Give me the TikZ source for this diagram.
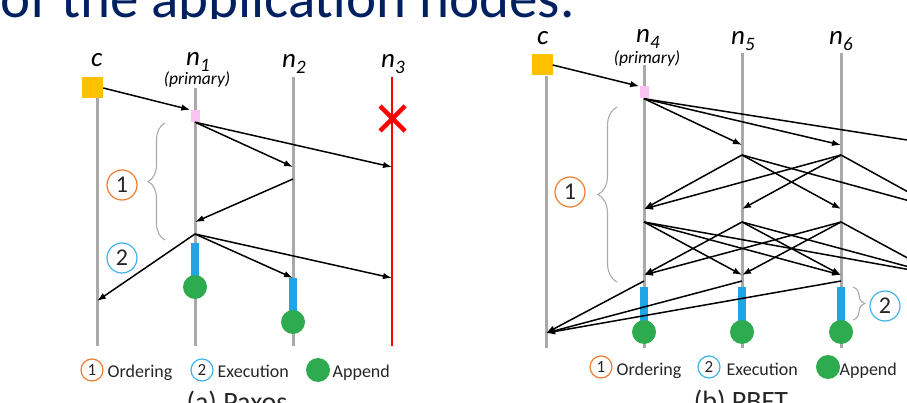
\documentclass[tikz,border=0pt]{standalone}
\usepackage{fontspec}
\setmainfont{Carlito}
\usepackage{tikz}
\usetikzlibrary{arrows.meta, decorations.pathreplacing}
\definecolor{TitleBlue}{HTML}{002060}
\definecolor{ClientGold}{HTML}{FFC000}
\definecolor{PrimPink}{HTML}{FAC3F2}
\definecolor{ExecBlue}{HTML}{1FA5E6}
\definecolor{AppGreen}{HTML}{2EAA4F}
\definecolor{LifeGrey}{HTML}{A9A9A9}
\definecolor{OrdOrange}{HTML}{ED7D31}
\definecolor{ExeRing}{HTML}{3FB3EA}
\definecolor{FailRed}{HTML}{FF0000}

\newcommand{\nodelbl}[1]{\textit{n}\raisebox{-6pt}[0pt][0pt]{\fontsize{19}{19}\selectfont\textit{#1}}}

\tikzset{
  life/.style={line width=3pt, LifeGrey},
  msg/.style={-{Latex[length=9pt,width=6.5pt]}, line width=1.5pt, black},
  lbl/.style={anchor=base west, inner sep=0pt, font=\fontsize{27}{27}\selectfont},
  prim/.style={inner sep=0pt, font=\fontsize{17.5}{17.5}\selectfont\itshape},
  client/.style={fill=ClientGold, minimum size=21pt, inner sep=0pt},
  pinkbox/.style={fill=PrimPink, minimum width=9pt, minimum height=12pt, inner sep=0pt},
  execbar/.style={fill=ExecBlue, minimum width=8pt, minimum height=34pt, inner sep=0pt},
  append/.style={circle, fill=AppGreen, minimum size=24pt, inner sep=0pt},
  numc/.style={circle, draw=#1, line width=1.2pt, minimum size=22pt, inner sep=0pt,
    text=black!85, font=\fontsize{17}{17}\selectfont},
  bignum/.style={numc=#1, minimum size=30pt, font=\fontsize{24}{24}\selectfont},
  legtxt/.style={anchor=base west, inner sep=0pt, text=black!85, font=\fontsize{18}{18}\selectfont},
  caption/.style={anchor=base, inner sep=0pt, text=black!85, font=\fontsize{28}{28}\selectfont},
  curly/.style={decorate, decoration={brace, amplitude=#1}, line width=1.1pt, LifeGrey}
}

\begin{document}
\begin{tikzpicture}[x=1pt, y=-1pt]
    \useasboundingbox (0,0) rectangle (907,403);
    \clip (0,0) rectangle (907,403);

    % Slide heading, cut by the crop
    \begin{scope}
        \clip (0,0) rectangle (907,18.5);
        \node[anchor=base west, inner sep=0pt, text=TitleBlue, font=\fontsize{57}{60}\selectfont]
            (heading) at (0.5,18) {\raisebox{0pt}[\height][0pt]{of the application nodes.}};
    \end{scope}

    %% (a) Paxos
    % Lifelines
    \draw[life] (97,98) -- (97,346);
    \draw[life] (195,88) -- (195,346);
    \draw[life] (293,77) -- (293,346);
    \draw[line width=2.6pt, FailRed] (392,77) -- (392,346);
    \draw[line width=4.5pt, FailRed] (380,106) -- (405,131) (380,131) -- (405,106);

    % Labels
    \node[lbl] (a-lc) at (91,67) {\textit{c}};
    \node[lbl] (a-l1) at (186,66) {\nodelbl{1}};
    \node[prim] (a-p1) at (197,80) {(primary)};
    \node[lbl] (a-l2) at (282,68) {\nodelbl{2}};
    \node[lbl] (a-l3) at (381,68) {\nodelbl{3}};

    % Client and primary
    \node[client] (a-client) at (92.5,88) {};
    \node[pinkbox] (a-prim) at (195,116) {};

    % Execution and append
    \node[execbar] (a-ex1) at (195,260) {};
    \node[execbar] (a-ex2) at (293,295) {};
    \node[append] (a-ap1) at (195,287) {};
    \node[append] (a-ap2) at (293,322) {};

    % Phases
    \draw[curly=17pt] (165,240) -- (165,123);
    \node[bignum=OrdOrange] (a-ph1) at (122,185) {1};
    \node[bignum=ExeRing] (a-ph2) at (122,258) {2};

    % Message points
    \coordinate (a2-in) at (293,167);
    \coordinate (a3-in) at (392,167);
    \coordinate (a2-out) at (293,179);
    \coordinate (a1-in) at (195,222);
    \coordinate (a1-out) at (195,234);
    \coordinate (ac-in) at (97,301);
    \coordinate (a2-rep) at (293,278);
    \coordinate (a3-rep) at (392,278);

    % Messages
    \draw[msg] (a-client.east) -- (a-prim.north west);
    \draw[msg] (a-prim.south) -- (a2-in);
    \draw[msg] (a-prim.south) -- (a3-in);
    \draw[msg] (a2-out) -- (a1-in);
    \draw[msg] (a1-out) -- (ac-in);
    \draw[msg] (a1-out) -- (a2-rep);
    \draw[msg] (a1-out) -- (a3-rep);

    % Legend and caption
    \node[numc=OrdOrange] (a-k1) at (92,370) {1};
    \node[legtxt] (a-t1) at (107.5,377) {Ordering};
    \node[numc=ExeRing] (a-k2) at (202,370) {2};
    \node[legtxt] (a-t2) at (217.5,377) {Execution};
    \node[append] (a-k3) at (318,370) {};
    \node[legtxt] (a-t3) at (332.5,377) {Append};
    \node[caption] (a-cap) at (237,411) {(a) Paxos};

    %% (b) PBFT
    % Lifelines
    \draw[life] (546,76) -- (546,348);
    \draw[life] (644,65) -- (644,348);
    \draw[life] (742,53) -- (742,348);
    \draw[life] (841,53) -- (841,348);

    % Labels
    \node[lbl] (b-lc) at (537,45) {\textit{c}};
    \node[lbl] (b-l4) at (636,43) {\nodelbl{4}};
    \node[prim] (b-p4) at (647,59) {(primary)};
    \node[lbl] (b-l5) at (731,45) {\nodelbl{5}};
    \node[lbl] (b-l6) at (829,45) {\nodelbl{6}};

    % Client and primary
    \node[client] (b-client) at (542,65) {};
    \node[pinkbox] (b-prim) at (644,92.5) {};

    % Execution and append
    \foreach \i/\x in {4/644,5/742,6/841} {
        \node[execbar] (b-ex\i) at (\x,303.5) {};
        \node[append] (b-ap\i) at (\x,332) {};
    }

    % Phases
    \draw[curly=19pt] (617,282) -- (617,107);
    \node[bignum=OrdOrange] (b-ph1) at (570,192) {1};
    \draw[curly=12pt] (853,287) -- (853,320);
    \node[bignum=ExeRing] (b-ph2) at (885,306) {2};

    % Message points on each replica
    \foreach \i/\x in {4/644,5/742,6/841,7/939} {
        \coordinate (b\i-pp) at (\x,145);
        \coordinate (b\i-ps) at (\x,155);
        \coordinate (b\i-pr) at (\x,209);
        \coordinate (b\i-cs) at (\x,222);
        \coordinate (b\i-cr) at (\x,275);
        \coordinate (b\i-rs) at (\x,281);
    }
    \coordinate (bc-in) at (546,333);

    % Messages
    \draw[msg] (b-client.east) -- (b-prim.north west);
    \foreach \t in {5,6,7}
        \draw[msg] (b-prim.south) -- (b\t-pp);
    \foreach \s/\tl in {5/{4,6,7}, 6/{4,5,7}}
        \foreach \t in \tl
            \draw[msg] (b\s-ps) -- (b\t-pr);
    \foreach \s/\tl in {4/{5,6,7}, 5/{4,6,7}, 6/{4,5,7}}
        \foreach \t in \tl
            \draw[msg] (b\s-cs) -- (b\t-cr);
    \foreach \s in {4,5,6}
        \draw[msg] (b\s-rs) -- (bc-in);

    % Legend and caption
    \node[numc=OrdOrange] (b-k1) at (601,367) {1};
    \node[legtxt] (b-t1) at (616.5,375) {Ordering};
    \node[numc=ExeRing] (b-k2) at (709,367) {2};
    \node[legtxt] (b-t2) at (726.5,375) {Execution};
    \node[append] (b-k3) at (828,367) {};
    \node[legtxt] (b-t3) at (839.5,375) {Append};
    \node[caption] (b-cap) at (741,410) {(b) PBFT};
\end{tikzpicture}
\end{document}
